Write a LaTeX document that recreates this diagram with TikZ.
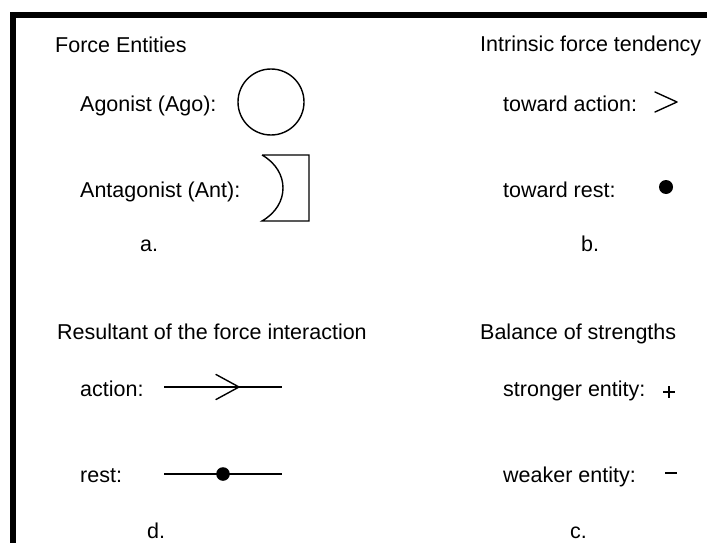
\documentclass[tikz,border=0pt]{standalone}
\usepackage{fontspec}
\setmainfont{Liberation Sans}
\begin{document}
\begin{tikzpicture}[x=1pt,y=-1pt,
  lbl/.style={anchor=base west,inner sep=0pt,font=\fontsize{21.5}{25}\selectfont},
  glyph/.style={line width=1.4pt,line cap=round,line join=round},
  dotmark/.style={fill=black,draw=none}]
\useasboundingbox (0,0) rectangle (707,543);
% frame
\draw[line width=6pt,line join=miter] (13,543) -- (13,15.5) -- (707,15.5);

% a. force entities
\node[lbl] (fe)  at (55,53)  {Force Entities};
\node[lbl] (ago) at (80,111) {Agonist (Ago):};
\node[lbl] (ant) at (80,197) {Antagonist (Ant):};
\node[lbl] (la)  at (140,251) {a.};
\node[draw,circle,line width=1.4pt,minimum size=66pt,inner sep=0pt] (agoc) at (271,102) {};
\draw[glyph,line cap=butt,line join=miter] (262,155) -- (309,155) -- (309,221) -- (262,221)
  .. controls (290,205) and (290,171) .. (262,155);

% b. intrinsic force tendency
\node[lbl] (ift) at (480,52)  {Intrinsic force tendency};
\node[lbl] (ta)  at (503,111) {toward action:};
\node[lbl] (tr)  at (503,197) {toward rest:};
\node[lbl] (lb)  at (581,251) {b.};
\draw[glyph] (655,92) -- (677,102) -- (655,112);
\fill[dotmark] (666,187) circle (7);

% d. resultant
\node[lbl] (res) at (57,339) {Resultant of the force interaction};
\node[lbl] (act) at (80,396) {action:};
\node[lbl] (rst) at (80,482) {rest:};
\node[lbl] (ld)  at (147,538) {d.};
\coordinate (a1) at (164,387);
\coordinate (a2) at (282,387);
\coordinate (r1) at (164,474);
\coordinate (r2) at (282,474);
\draw[glyph,line cap=butt] (a1) -- (a2);
\draw[glyph] (216,374.5) -- (239,387) -- (216,399.5);
\draw[glyph,line cap=butt] (r1) -- (r2);
\fill[dotmark] (223,474) circle (6.8);

% c. balance of strengths
\node[lbl] (bos) at (480,339) {Balance of strengths};
\node[lbl] (se)  at (503,396) {stronger entity:};
\node[lbl] (we)  at (503,482) {weaker entity:};
\node[lbl] (lc)  at (570,538) {c.};
\draw[line width=1.6pt] (663,392) -- (675,392) (669,386) -- (669,398);
\draw[line width=1.6pt] (665,473) -- (677,473);
\end{tikzpicture}
\end{document}
